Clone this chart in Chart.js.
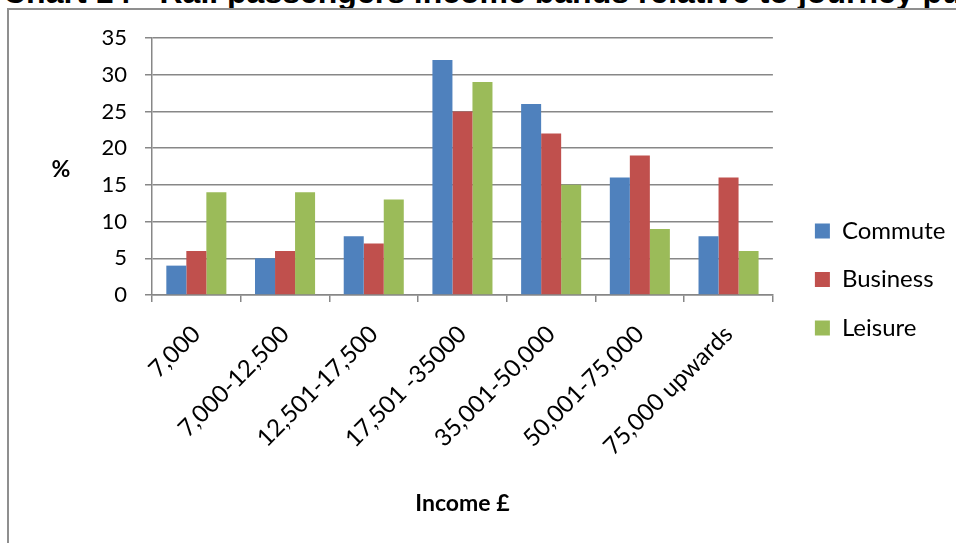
<!DOCTYPE html>
<html>
<head>
<meta charset="utf-8">
<script src="https://cdn.jsdelivr.net/npm/chart.js@4/dist/chart.umd.min.js"></script>
<style>
  html, body { margin:0; padding:0; width:956px; height:543px; overflow:hidden; background:#fff; }
  #title { position:absolute; left:3px; top:-24px; white-space:nowrap; font-family:"Liberation Sans", Arial, sans-serif; font-weight:bold; font-size:32px; color:#000; line-height:32px; }
  #frame { position:absolute; left:7px; top:8px; width:1000px; height:1000px; border-left:2px solid #8f8f8f; border-top:2px solid #8f8f8f; }
  #wrap { position:absolute; left:0; top:0; width:956px; height:543px; }
</style>
</head>
<body>
<div id="title">Chart 14 - Rail passengers income bands relative to journey purpose</div>
<div id="frame"></div>
<div id="wrap"><canvas id="c" width="956" height="543"></canvas></div>
<script>
const categories = ["7,000", "7,000-12,500", "12,501-17,500", "17,501 -35000", "35,001-50,000", "50,001-75,000", "75,000 upwards"];
const commute  = [4, 5, 8, 32, 26, 16, 8];
const business = [6, 6, 7, 25, 22, 19, 16];
const leisure  = [14, 14, 13, 29, 15, 9, 6];
const seriesNames = ["Commute", "Business", "Leisure"];
const yTicks = [0, 5, 10, 15, 20, 25, 30, 35];
const yAxisTitle = "%";
const xAxisTitle = "Income £";

const FONT = 'Lato, "Open Sans", sans-serif';
const gridColor = '#878787';

// legend geometry: boxes start at x=814
const legendFontSize = 24, legendPad = 24.5, legendBox = 15;
const mctx = document.createElement('canvas').getContext('2d');
mctx.font = legendFontSize + 'px ' + FONT;
const maxTextW = Math.max(...seriesNames.map(s => mctx.measureText(s).width));
const legendW = legendPad + legendBox + legendFontSize / 2 + maxTextW + 10;
const legendLeft = 814 - legendPad;
const padRight = Math.max(0, 956 - legendLeft - legendW) + 6;

const yTitlePlugin = {
  id: 'yTitle',
  afterDraw(chart) {
    const ctx = chart.ctx;
    ctx.save();
    ctx.font = 'bold 23px ' + FONT;
    ctx.fillStyle = '#000';
    ctx.textAlign = 'center';
    ctx.textBaseline = 'middle';
    ctx.fillText(yAxisTitle, 61, 170);
    ctx.restore();
  }
};

new Chart(document.getElementById('c'), {
  type: 'bar',
  data: {
    labels: categories,
    datasets: [
      { label: seriesNames[0], data: commute, backgroundColor: '#4F81BD' },
      { label: seriesNames[1], data: business, backgroundColor: '#C0504D' },
      { label: seriesNames[2], data: leisure, backgroundColor: '#9BBB59' }
    ]
  },
  options: {
    responsive: false,
    animation: false,
    devicePixelRatio: 1,
    layout: { padding: { left: 0, top: 38, right: padRight, bottom: 22 } },
    datasets: { bar: { categoryPercentage: 0.677, barPercentage: 1.0 } },
    plugins: {
      legend: {
        position: 'right',
        labels: {
          boxWidth: legendBox, boxHeight: legendBox, padding: legendPad,
          color: '#000',
          font: { family: FONT, size: legendFontSize }
        }
      },
      tooltip: { enabled: false },
      title: { display: false }
    },
    scales: {
      x: {
        afterFit: s => { s.height = 521 - 295; },
        grid: { drawOnChartArea: false, drawTicks: true, tickLength: 7, color: gridColor, lineWidth: 1.5, offset: true },
        border: { display: true, color: gridColor, width: 1.5 },
        ticks: { autoSkip: false, minRotation: 45, maxRotation: 45, color: '#000', font: { family: FONT, size: 24 }, padding: 18 },
        title: { display: true, text: xAxisTitle, color: '#000', font: { family: FONT, size: 23, weight: 'bold' }, padding: { top: 0, bottom: 4 } }
      },
      y: {
        min: 0, max: 35,
        afterFit: s => { s.width = 152; },
        afterBuildTicks: s => { s.ticks = yTicks.map(v => ({ value: v })); },
        grid: { color: gridColor, lineWidth: 1.5, tickLength: 7, drawTicks: true },
        border: { display: true, color: gridColor, width: 1.5 },
        ticks: { color: '#000', font: { family: FONT, size: 22 }, padding: 18 }
      },
      yr: {
        position: 'right',
        display: true,
        afterFit: s => { s.width = legendLeft - 772; },
        grid: { display: false, drawTicks: false },
        border: { display: false },
        ticks: { display: false }
      }
    }
  },
  plugins: [yTitlePlugin]
});
</script>
</body>
</html>
